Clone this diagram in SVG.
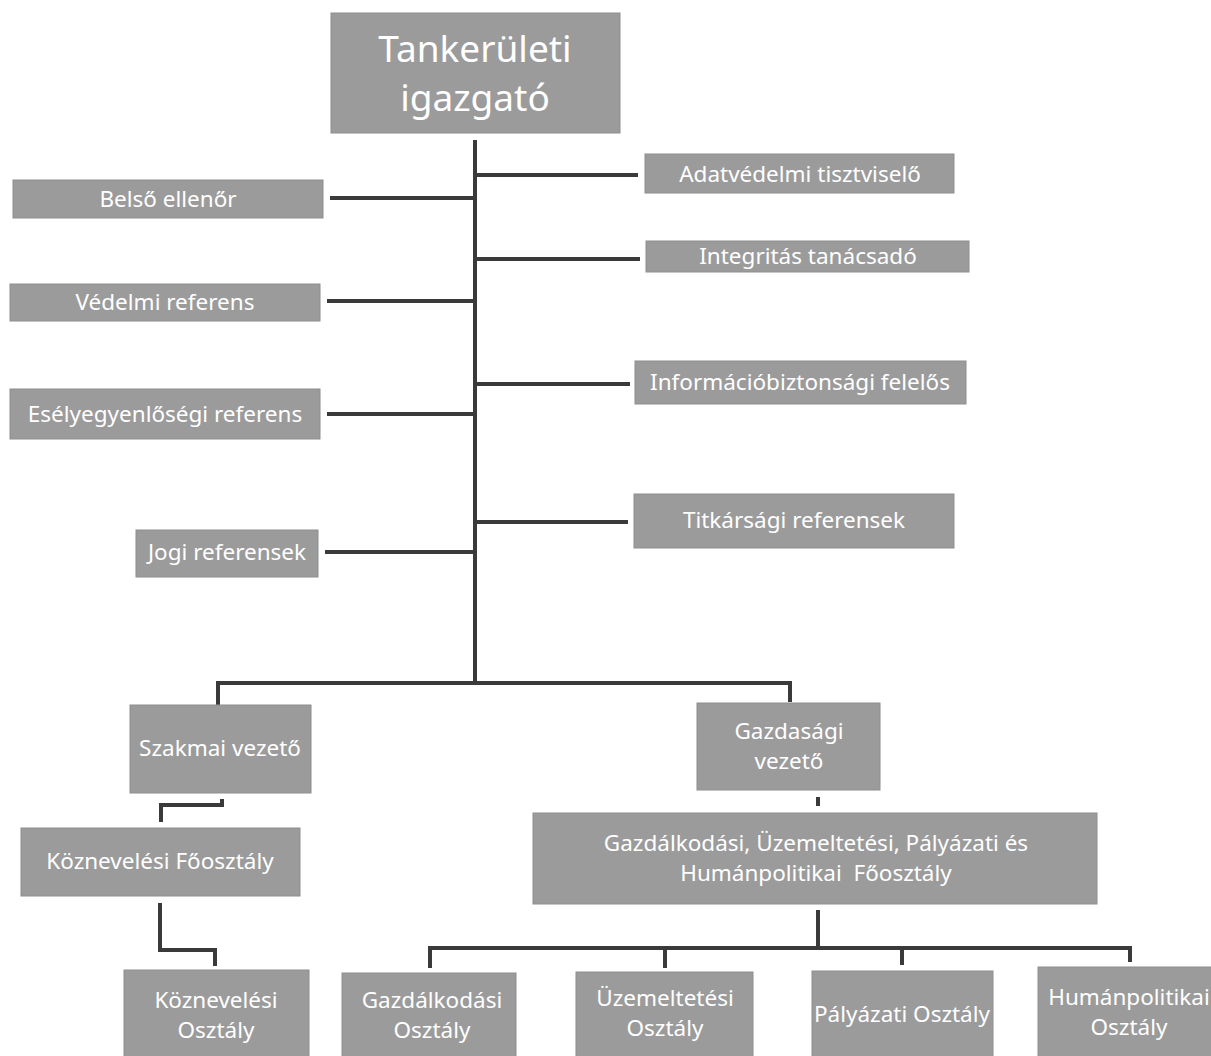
<svg xmlns="http://www.w3.org/2000/svg" width="1211" height="1056" viewBox="0 0 1211 1056">
<style>
.box{fill:#9b9b9b;stroke:#8e8e8e;stroke-width:1}
.t{fill:#ffffff;font-family:"Noto Sans","Open Sans",sans-serif;font-size:22.5px;text-anchor:middle}
.big{font-size:37px}
.c{fill:none;stroke:#3a3a3a;stroke-width:4;stroke-linejoin:miter}
</style>
<rect width="1211" height="1056" fill="#ffffff"/>
<g id="connectors">
<path class="c" d="M475 140 V683"/>
<path class="c" d="M218 705 V683 H790 V702"/>
<path class="c" d="M330 198 H475"/>
<path class="c" d="M327 301 H475"/>
<path class="c" d="M327 414 H475"/>
<path class="c" d="M325 552 H475"/>
<path class="c" d="M475 175 H638"/>
<path class="c" d="M475 259 H640"/>
<path class="c" d="M475 384 H630"/>
<path class="c" d="M475 522 H628"/>
<path class="c" d="M222 799 V805 H161 V822"/>
<path class="c" d="M160 903 V950 H215 V966"/>
<path class="c" d="M818 797 V806"/>
<path class="c" d="M818 910 V948"/>
<path class="c" d="M430 968 V948 H1130 V962"/>
<path class="c" d="M665 948 V968"/>
<path class="c" d="M902 948 V965"/>
</g>
<g id="n-igazgato"><rect class="box" x="331" y="13" width="289" height="120"/><text class="t big" x="475" y="62">Tankerületi</text><text class="t big" x="475" y="111">igazgató</text></g>
<g id="n-belso"><rect class="box" x="13" y="180" width="310" height="38"/><text class="t" x="168" y="207">Belső ellenőr</text></g>
<g id="n-vedelmi"><rect class="box" x="10" y="284" width="310" height="37"/><text class="t" x="165" y="310">Védelmi referens</text></g>
<g id="n-esely"><rect class="box" x="10" y="389" width="310" height="50"/><text class="t" x="165" y="422">Esélyegyenlőségi referens</text></g>
<g id="n-jogi"><rect class="box" x="136" y="530" width="182" height="47"/><text class="t" x="227" y="560">Jogi referensek</text></g>
<g id="n-adat"><rect class="box" x="645" y="154" width="309" height="39"/><text class="t" x="800" y="182">Adatvédelmi tisztviselő</text></g>
<g id="n-integ"><rect class="box" x="646" y="241" width="323" height="31"/><text class="t" x="808" y="264">Integritás tanácsadó</text></g>
<g id="n-info"><rect class="box" x="635" y="361" width="331" height="43"/><text class="t" x="800" y="390">Információbiztonsági felelős</text></g>
<g id="n-titk"><rect class="box" x="634" y="494" width="320" height="54"/><text class="t" x="794" y="528">Titkársági referensek</text></g>
<g id="n-szakmai"><rect class="box" x="130" y="705" width="181" height="88"/><text class="t" x="220" y="756">Szakmai vezető</text></g>
<g id="n-gazdvez"><rect class="box" x="697" y="703" width="183" height="87"/><text class="t" x="789" y="739">Gazdasági</text><text class="t" x="789" y="769">vezető</text></g>
<g id="n-kozfo"><rect class="box" x="21" y="828" width="279" height="68"/><text class="t" x="160" y="869">Köznevelési Főosztály</text></g>
<g id="n-gazdfo"><rect class="box" x="533" y="813" width="564" height="91"/><text class="t" x="816" y="851">Gazdálkodási, Üzemeltetési, Pályázati és</text><text class="t" x="816" y="881" xml:space="preserve">Humánpolitikai  Főosztály</text></g>
<g id="n-kozoszt"><rect class="box" x="124" y="970" width="185" height="90"/><text class="t" x="216" y="1008">Köznevelési</text><text class="t" x="216" y="1038">Osztály</text></g>
<g id="n-gazdoszt"><rect class="box" x="342" y="973" width="174" height="87"/><text class="t" x="432" y="1008">Gazdálkodási</text><text class="t" x="432" y="1038">Osztály</text></g>
<g id="n-uzem"><rect class="box" x="576" y="972" width="177" height="88"/><text class="t" x="665" y="1006">Üzemeltetési</text><text class="t" x="665" y="1036">Osztály</text></g>
<g id="n-palyazati"><rect class="box" x="812" y="971" width="181" height="89"/><text class="t" x="902" y="1022">Pályázati Osztály</text></g>
<g id="n-human"><rect class="box" x="1038" y="967" width="178" height="93"/><text class="t" x="1129" y="1005">Humánpolitikai</text><text class="t" x="1129" y="1035">Osztály</text></g>
</svg>
